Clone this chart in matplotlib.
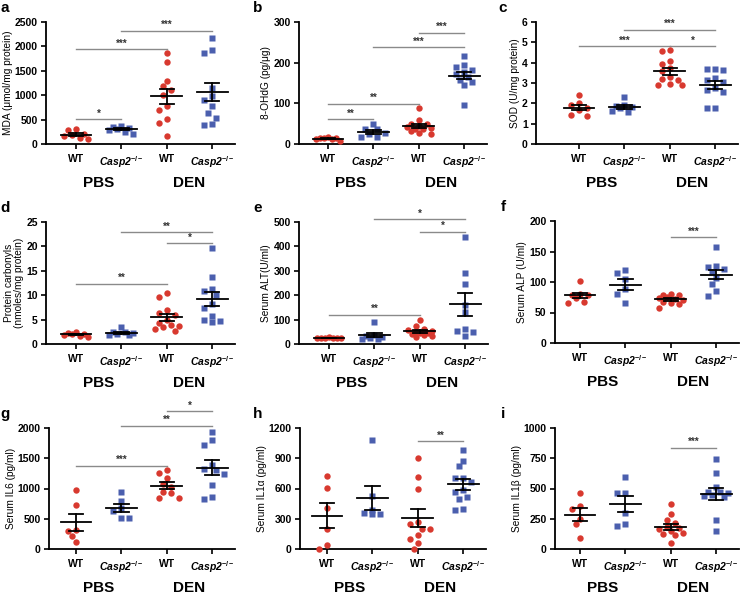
import numpy as np
import matplotlib
matplotlib.use("Agg")
import matplotlib.pyplot as plt

plt.rcParams['font.family'] = ['Liberation Sans', 'DejaVu Sans']
plt.rcParams['font.weight'] = 'bold'
plt.rcParams['mathtext.fontset'] = 'custom'
plt.rcParams['mathtext.rm'] = 'Liberation Sans'
plt.rcParams['mathtext.it'] = 'Liberation Sans:italic'
plt.rcParams['mathtext.bf'] = 'Liberation Sans:bold'
plt.rcParams['mathtext.bfit'] = 'Liberation Sans:italic:bold'

# group order: PBS WT, PBS Casp2-/-, DEN WT, DEN Casp2-/-
groups = ['WT', r'$\mathbfit{Casp2}^{\mathbf{-/-}}$', 'WT', r'$\mathbfit{Casp2}^{\mathbf{-/-}}$']
treatments = ['PBS', 'DEN']

mda = [[100, 130, 160, 180, 210, 280, 300],
       [210, 250, 290, 310, 330, 350, 370],
       [1870, 1690, 1300, 1180, 1100, 1000, 780, 700, 520, 440, 170],
       [2170, 1930, 1860, 1150, 980, 900, 770, 640, 540, 400, 390]]
ohdg = [[8, 12, 14, 15, 16, 13, 15],
        [50, 38, 36, 28, 24, 18, 17],
        [88, 58, 50, 48, 45, 42, 40, 38, 36, 32, 28, 25],
        [217, 195, 190, 183, 178, 172, 165, 158, 152, 145, 96]]
sod = [[2.4, 2.0, 1.9, 1.75, 1.65, 1.45, 1.4],
       [2.3, 1.9, 1.85, 1.8, 1.75, 1.6, 1.55],
       [4.6, 4.55, 4.1, 3.95, 3.75, 3.6, 3.3, 3.2, 3.15, 2.95, 2.9, 2.9],
       [3.7, 3.7, 3.65, 3.25, 3.15, 3.05, 2.75, 2.65, 2.55, 1.76, 1.76]]
carbonyls = [[2.5, 2.3, 2.1, 2.0, 1.8, 1.6, 1.5],
             [3.5, 2.5, 2.4, 2.2, 2.0, 1.9, 1.8],
             [10.5, 9.7, 7.0, 6.3, 6.0, 5.0, 4.3, 3.8, 3.6, 3.4, 3.0, 2.7],
             [19.7, 13.7, 11.2, 10.8, 10.1, 8.1, 7.4, 5.7, 5.0, 4.8, 4.6]]
alt = [[27, 26, 25, 25, 24, 24, 26],
       [90, 35, 32, 28, 25, 22, 22],
       [97, 75, 62, 58, 52, 50, 47, 44, 40, 36, 32, 28],
       [438, 292, 247, 161, 131, 60, 53, 49, 33]]
alp = [[102, 80, 79, 78, 74, 67, 66],
       [120, 115, 105, 88, 80, 66],
       [81, 79, 78, 76, 74, 72, 70, 68, 66, 64, 58],
       [157, 126, 124, 122, 117, 106, 96, 85, 77]]
il6 = [[980, 730, 310, 300, 210, 110],
       [950, 790, 680, 620, 520, 520],
       [1300, 1260, 1180, 1080, 1030, 950, 920, 850, 850],
       [1930, 1800, 1720, 1390, 1320, 1300, 1240, 1060, 860, 830]]
il1a = [[725, 605, 410, 200, 35, 0],
        [1078, 530, 390, 355, 350, 350],
        [905, 710, 595, 265, 245, 200, 195, 140, 100, 60, 0],
        [985, 875, 820, 705, 700, 660, 585, 565, 520, 500, 400, 385]]
il1b = [[465, 355, 330, 250, 205, 90],
        [595, 465, 465, 300, 205, 190],
        [370, 290, 240, 215, 185, 170, 165, 145, 130, 120, 115, 50],
        [740, 625, 515, 475, 470, 460, 450, 440, 430, 240, 145]]

# significance bars: (from group, to group, height, stars)
sig_a = [(1, 2, 508, '*'), (1, 3, 1937, '***'), (2, 4, 2315, '***')]
sig_b = [(1, 2, 61, '**'), (1, 3, 99, '**'), (2, 4, 238, '***'), (3, 4, 273, '***')]
sig_c = [(1, 3, 4.8, '***'), (2, 4, 5.62, '***'), (3, 4, 4.8, '*')]
sig_d = [(1, 3, 12.3, '**'), (2, 4, 22.9, '**'), (3, 4, 20.6, '*')]
sig_e = [(1, 3, 120, '**'), (2, 4, 511, '*'), (3, 4, 459, '*')]
sig_f = [(3, 4, 173, '***')]
sig_g = [(1, 3, 1374, '***'), (2, 4, 2033, '**'), (3, 4, 2280, '*')]
sig_h = [(3, 4, 1068, '**')]
sig_i = [(3, 4, 838, '***')]

RED = '#d8392f'
BLUE = '#4b5fae'
GRAY = '#8a8a8a'
W, H = 740, 597
STEP = 45.4  # px between groups

# letter, data, ylabel, ymax, ystep, sig, axis-left px, first-tick px, bottom px, top px
panels = [
    ('a', mda, 'MDA (μmol/mg protein)', 2500, 500, sig_a, 46, 76, 144, 22),
    ('b', ohdg, '8-OHdG (pg/μg)', 300, 100, sig_b, 299, 328, 144, 22),
    ('c', sod, 'SOD (U/mg protein)', 6, 1, sig_c, 536, 579, 144, 22),
    ('d', carbonyls, 'Protein carbonyls\n(nmoles/mg protein)', 25, 5, sig_d, 46, 76, 344, 222),
    ('e', alt, 'Serum ALT(U/ml)', 500, 100, sig_e, 299, 329, 344, 222),
    ('f', alp, 'Serum ALP (U/ml)', 200, 50, sig_f, 555, 580, 343, 221),
    ('g', il6, 'Serum IL6 (pg/ml)', 2000, 500, sig_g, 49, 76, 549, 428),
    ('h', il1a, 'Serum IL1α (pg/ml)', 1200, 300, sig_h, 300, 327, 549, 428),
    ('i', il1b, 'Serum IL1β (pg/ml)', 1000, 250, sig_i, 555, 580, 549, 428),
]


def swarm(vals, ppu, d=6.6):
    # simple beeswarm in pixel space, capped width, returns x offsets in px
    vals = np.asarray(vals, float)
    order = np.argsort(-vals)
    offs = np.zeros(len(vals))
    placed = []
    cands = sorted(np.arange(-3, 4) * 4.0, key=lambda v: (abs(v), v))
    for i in order:
        y = vals[i] * ppu
        best, best_d = 0.0, -1.0
        for c in cands:
            md = min([np.hypot(c - px, y - py) for px, py in placed] or [99])
            if md >= d:
                best = c
                break
            if md > best_d:
                best, best_d = c, md
        offs[i] = best
        placed.append((best, y))
    return offs


fig = plt.figure(figsize=(W / 100, H / 100), dpi=100)

for letter, data, ylabel, ymax, ystep, sig, left, tick1, bottom, top in panels:
    lo = 1 - (tick1 - left) / STEP
    hi = 4.5
    ax = fig.add_axes([left / W, 1 - bottom / H, (hi - lo) * STEP / W, (bottom - top) / H])
    ppu = (bottom - top) / ymax
    for k, vals in enumerate(data):
        x0 = k + 1
        offs = swarm(vals, ppu) / STEP
        if k % 2 == 0:
            ax.plot(x0 + offs, vals, 'o', color=RED, ms=4.6, mec='none', clip_on=False, zorder=3)
        else:
            ax.plot(x0 + offs, vals, 's', color=BLUE, ms=4.3, mec='none', clip_on=False, zorder=3)
        v = np.asarray(vals, float)
        m = v.mean()
        se = v.std(ddof=1) / np.sqrt(len(v))
        ax.plot([x0 - 0.34, x0 + 0.34], [m, m], color='black', lw=1.3, zorder=4)
        ax.plot([x0 - 0.16, x0 + 0.16], [m + se, m + se], color='black', lw=1.3, zorder=4)
        ax.plot([x0 - 0.16, x0 + 0.16], [m - se, m - se], color='black', lw=1.3, zorder=4)
        ax.plot([x0, x0], [m - se, m + se], color='black', lw=1.3, zorder=4)
    for g1, g2, yb, stars in sig:
        ax.plot([g1, g2], [yb, yb], color=GRAY, lw=1.0, clip_on=False)
        ax.annotate(stars, ((g1 + g2) / 2, yb), xytext=(0, 0.5), textcoords='offset points',
                    ha='center', va='bottom', fontsize=7, color='#333333', annotation_clip=False)

    ax.set_xlim(lo, hi)
    ax.set_ylim(0, ymax)
    ticks = np.arange(0, ymax + ystep / 2, ystep)
    ax.set_yticks(ticks)
    ax.set_yticklabels([f'{t:g}' for t in ticks])
    ax.set_xticks([1, 2, 3, 4])
    ax.set_xticklabels(groups)
    ax.tick_params(axis='both', labelsize=7.5, width=1.2, length=3.5, pad=2.5, direction='out')
    ax.tick_params(axis='x', pad=4)
    for sp in ['top', 'right']:
        ax.spines[sp].set_visible(False)
    for sp in ['left', 'bottom']:
        ax.spines[sp].set_linewidth(1.3)
    ax.set_ylabel(ylabel, fontsize=7.3, labelpad=1.5, linespacing=1.0)
    for j, t in enumerate(treatments):
        ax.annotate(t, (1.5 + 2 * j, 0), xycoords=('data', 'axes fraction'),
                    xytext=(0, -28), textcoords='offset points',
                    ha='center', va='center', fontsize=11)
    lx = {46: 5, 49: 5, 299: 258, 300: 258, 536: 503, 555: 503}[left]
    fig.text(lx / W, 1 - (top - 14) / H, letter, ha='center', va='center', fontsize=11)

fig.savefig('out.png', dpi=100)
